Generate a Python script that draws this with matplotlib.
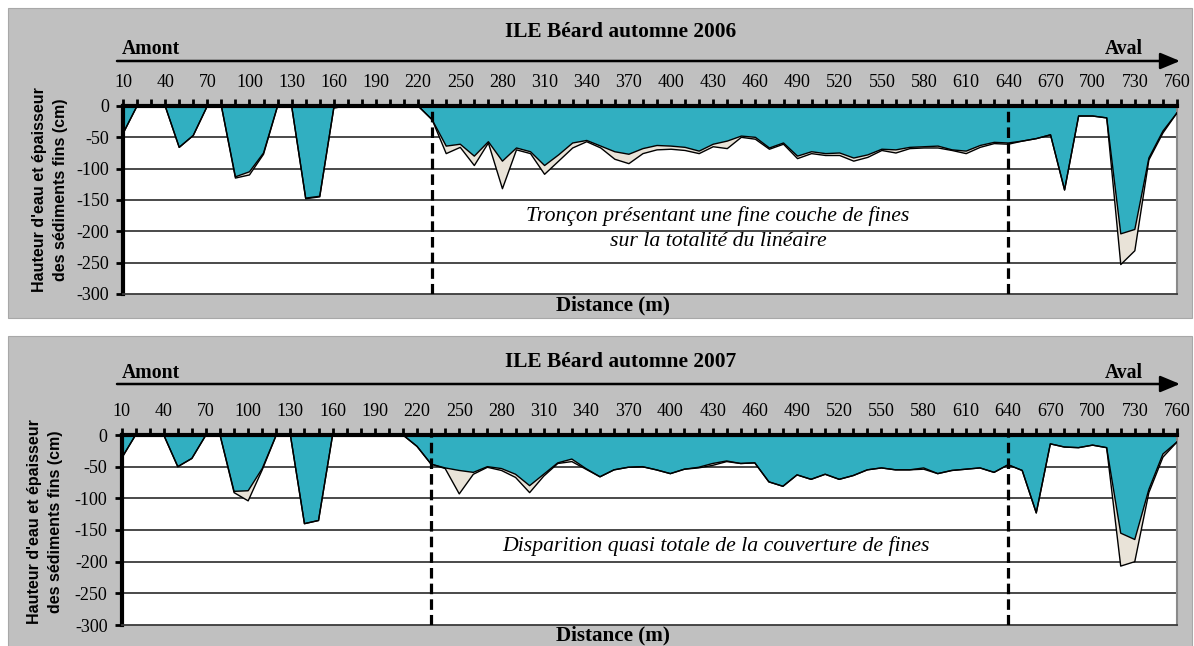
import matplotlib
matplotlib.use('Agg')
import matplotlib.pyplot as plt
from matplotlib.patches import Rectangle, FancyArrowPatch

# ---------------- data ----------------
distances = [10, 20, 30, 40, 50, 60, 70, 80, 90, 100, 110, 120, 130, 140, 150, 160, 170, 180, 190, 200,
             210, 220, 230, 240, 250, 260, 270, 280, 290, 300, 310, 320, 330, 340, 350, 360, 370, 380, 390, 400,
             410, 420, 430, 440, 450, 460, 470, 480, 490, 500, 510, 520, 530, 540, 550, 560, 570, 580, 590, 600,
             610, 620, 630, 640, 650, 660, 670, 680, 690, 700, 710, 720, 730, 740, 750, 760]

tick_labels = ['10', '40', '70', '100', '130', '160', '190', '220', '250', '280', '310', '340', '370',
               '400', '430', '460', '490', '520', '550', '580', '610', '640', '670', '700', '730', '760']

# 2006 : bottom of water (eau) and bottom of fine sediments (total)
water_2006 = [-44, 0, 0, 0, -66, -47, 0, 0, -113, -105, -75, 0, 0, -147, -144, -3, 0, 0, 0, 0, 0, 0,
              -22, -64, -61, -80, -57, -88, -67, -73, -95, -78, -59, -55, -64, -73, -77, -68, -63, -64,
              -66, -72, -61, -56, -48, -50, -67, -59, -80, -73, -76, -75, -83, -78, -69, -70, -66, -65,
              -64, -70, -72, -63, -58, -59, -56, -52, -46, -134, -16, -16, -19, -204, -197, -83, -40, -11]
total_2006 = [-44, 0, 0, 0, -66, -47, 0, 0, -115, -110, -77, 0, 0, -148, -145, -3, 0, 0, 0, 0, 0, 0,
              -22, -76, -66, -95, -59, -132, -70, -76, -109, -88, -67, -57, -67, -85, -92, -76, -70, -69,
              -71, -76, -65, -68, -50, -53, -69, -61, -84, -76, -79, -79, -88, -82, -71, -75, -68, -67,
              -67, -71, -76, -66, -60, -61, -56, -52, -46, -134, -16, -16, -19, -253, -231, -86, -43, -11]

water_2007 = [-37, 0, 0, 0, -50, -37, 0, 0, -89, -88, -53, 0, 0, -140, -135, 0, 0, 0, 0, 0, 0, -18,
              -46, -52, -56, -59, -50, -53, -62, -80, -62, -44, -38, -53, -66, -55, -51, -50, -55, -61,
              -54, -51, -45, -41, -45, -44, -74, -81, -63, -70, -62, -70, -64, -55, -52, -55, -55, -52,
              -61, -56, -54, -52, -59, -47, -56, -123, -14, -19, -20, -16, -20, -155, -165, -86, -30, -11]
total_2007 = [-37, 0, 0, 0, -50, -37, 0, 0, -91, -104, -55, 0, 0, -140, -135, 0, 0, 0, 0, 0, 0, -18,
              -46, -53, -93, -62, -51, -56, -67, -91, -65, -45, -42, -54, -66, -55, -51, -50, -55, -61,
              -54, -52, -48, -42, -45, -44, -74, -81, -63, -70, -62, -70, -64, -55, -52, -55, -55, -54,
              -61, -56, -54, -52, -59, -47, -56, -123, -14, -19, -20, -16, -20, -207, -200, -91, -35, -11]

section_limits = [230, 640]
y_ticks = [0, -50, -100, -150, -200, -250, -300]

# ---------------- style ----------------
W, H = 1194, 646
BLUE = '#31AFC1'
BEIGE = '#E9E3D8'
GRAY = '#C0C0C0'
SERIF = ['Liberation Serif', 'DejaVu Serif']
SANS = ['Liberation Sans', 'DejaVu Sans']

fig = plt.figure(figsize=(W / 100, H / 100), dpi=100)
fig.patch.set_facecolor('white')


def fx(x):
    return x / W


def fy(y):
    return 1 - y / H


panels = [
    dict(title='ILE Béard automne 2006', water=water_2006, total=total_2006,
         note=['Tronçon présentant une fine couche de fines', 'sur la totalité du linéaire'],
         note_y=[216, 242], note_x=718, off=0, left=123, gray=(8, 318), ylab_x=(40, 61), ylab_y=190,
         amont_y=49, arrow_y=61),
    dict(title='ILE Béard automne 2007', water=water_2007, total=total_2007,
         note=['Disparition quasi totale de la couverture de fines'],
         note_y=[546], note_x=716, off=330, left=121.5, gray=(336, 650), ylab_x=(35, 56), ylab_y=522,
         amont_y=373, arrow_y=384),
]

for p in panels:
    off = p['off']
    g0, g1 = p['gray']
    fig.add_artist(Rectangle((fx(8), fy(g1)), fx(1192) - fx(8), fy(g0) - fy(g1),
                             transform=fig.transFigure, facecolor=GRAY,
                             edgecolor='#A8A8A8', linewidth=0.8, zorder=-10))

    ptop = 106 + off - (1 if off else 0)
    pbot = 294 + off + (1 if off else 0)
    pright = 1177
    left = p['left']
    ax = fig.add_axes([fx(left), fy(pbot), fx(pright) - fx(left), fy(ptop) - fy(pbot)])
    ax.set_zorder(1)
    ax.set_facecolor('white')
    ax.set_xlim(distances[0], distances[-1])
    ax.set_ylim(-300, 0)

    for y in y_ticks[1:-1]:
        ax.axhline(y, color='#3a3a3a', lw=1.3, zorder=1)

    ax.fill_between(distances, 0, p['water'], facecolor=BLUE, edgecolor='none', zorder=2)
    ax.fill_between(distances, p['water'], p['total'], facecolor=BEIGE, edgecolor='none', zorder=2)
    ax.plot(distances, p['water'], color='black', lw=1.0, zorder=3)
    ax.plot(distances, p['total'], color='black', lw=1.0, zorder=3)

    for d in section_limits:
        ax.axvline(d, color='black', lw=2.3, dashes=(3.3, 1.6), zorder=4)

    ax.xaxis.tick_top()
    ax.set_xticks(distances[::3])
    ax.set_xticklabels(tick_labels)
    ax.set_xticks(distances, minor=True)
    ax.tick_params(axis='x', which='both', direction='out', length=5, width=2, color='black',
                   top=True, bottom=False, labeltop=True, labelbottom=False, pad=6)
    ax.set_yticks(y_ticks)
    ax.set_yticklabels([str(v) for v in y_ticks])
    ax.tick_params(axis='y', direction='out', length=5, width=2, color='black', pad=5)
    for lab in ax.get_xticklabels() + ax.get_yticklabels():
        lab.set_fontfamily(SERIF)
        lab.set_fontsize(13)

    ax.spines['top'].set_linewidth(3)
    ax.spines['left'].set_linewidth(3)
    ax.spines['right'].set_color('#8a8a8a')
    ax.spines['right'].set_linewidth(1.5)
    ax.spines['bottom'].set_color('#3a3a3a')
    ax.spines['bottom'].set_linewidth(1.3)

    # texts
    fig.text(fx(621), fy(32 + off), p['title'], ha='center', va='center', family=SERIF,
             fontweight='bold', fontsize=15.4)
    fig.text(fx(122), fy(p['amont_y']), 'Amont', ha='left', va='center', family=SERIF,
             fontweight='bold', fontsize=14.2)
    fig.text(fx(1143), fy(p['amont_y']), 'Aval', ha='right', va='center', family=SERIF,
             fontweight='bold', fontsize=14.2)
    ay = H - p['arrow_y']
    fig.add_artist(FancyArrowPatch(
        (117, ay), (1180, ay), transform=None, arrowstyle='-|>,head_length=12,head_width=5',
        mutation_scale=1, color='black', lw=1.8, shrinkA=0, shrinkB=0))

    for t, yy in zip(p['note'], p['note_y']):
        fig.text(fx(p['note_x']), fy(yy), t, ha='center', va='center', family=SERIF,
                 style='italic', fontsize=15.7, zorder=5)
    fig.text(fx(613), fy(305 + off), 'Distance (m)', ha='center', va='center', family=SERIF,
             fontweight='bold', fontsize=15.2)
    fig.text(fx(p['ylab_x'][0]), fy(p['ylab_y']), "Hauteur d'eau et épaisseur", rotation=90,
             ha='center', va='center', family=SANS, fontweight='bold', fontsize=11.5)
    fig.text(fx(p['ylab_x'][1]), fy(p['ylab_y']), 'des sédiments fins (cm)', rotation=90,
             ha='center', va='center', family=SANS, fontweight='bold', fontsize=11.5)

fig.savefig('out.png', dpi=100)
